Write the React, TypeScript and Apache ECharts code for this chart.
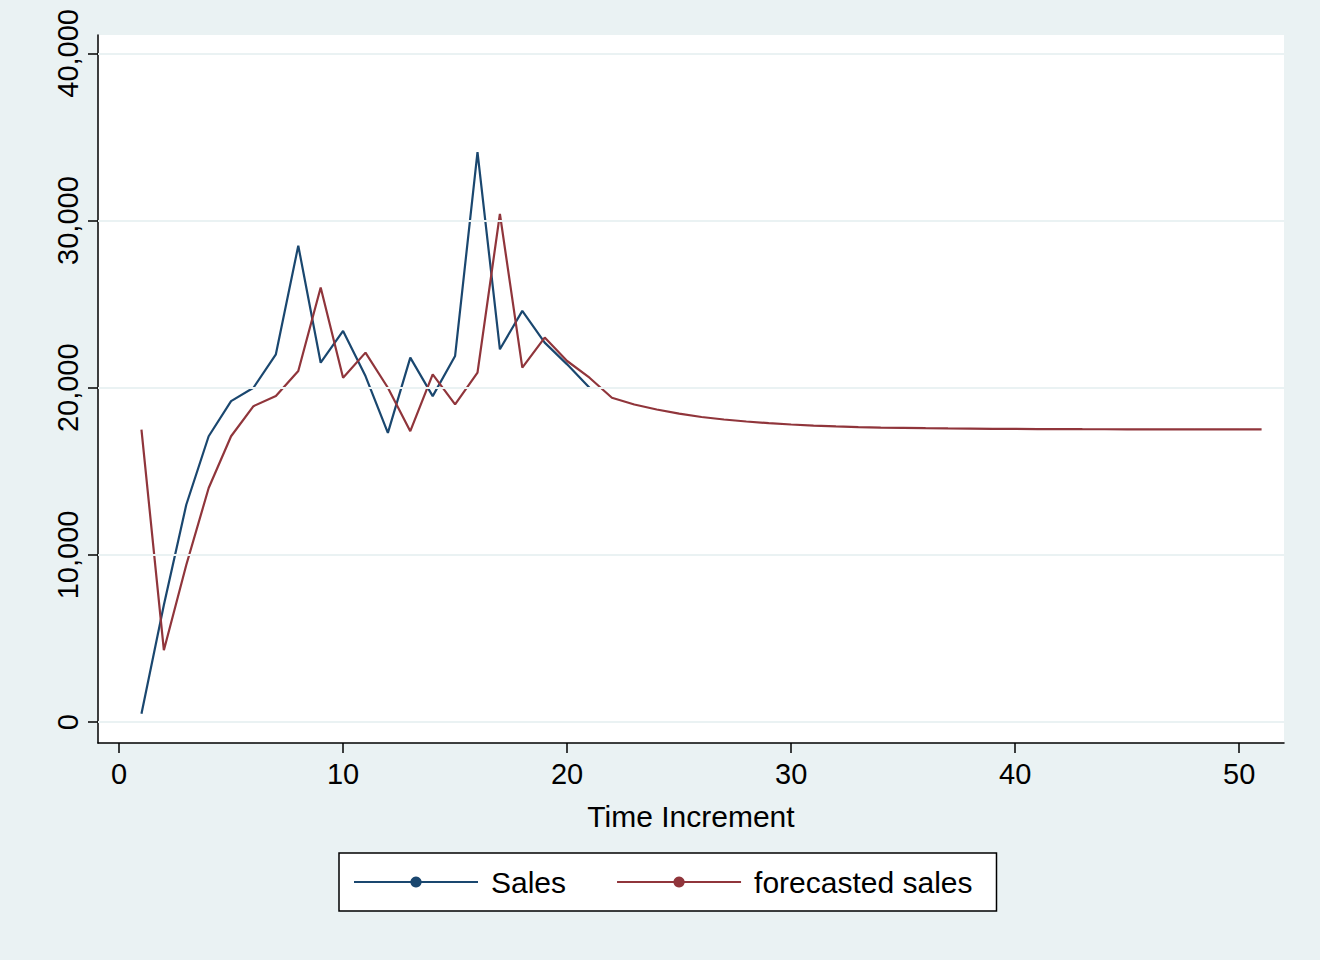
import * as echarts from "echarts";
import { useEffect, useRef } from "react";

const salesX = [1, 2, 3, 4, 5, 6, 7, 8, 9, 10, 11, 12, 13, 14, 15, 16, 17, 18, 19, 20, 21];
const sales = [500, 7000, 13000, 17100, 19200, 20000, 22000, 28500, 21500, 23400, 20700, 17300, 21800, 19500, 21900, 34100, 22300, 24600, 22700, 21400, 20000];

const forecastX = [
  1, 2, 3, 4, 5, 6, 7, 8, 9, 10, 11, 12, 13, 14, 15, 16, 17, 18, 19, 20, 21, 22, 23, 24, 25, 26,
  27, 28, 29, 30, 31, 32, 33, 34, 35, 36, 37, 38, 39, 40, 41, 42, 43, 44, 45, 46, 47, 48, 49, 50, 51
];
const forecast = [
  17500, 4300, 9400, 14000, 17100, 18900, 19500, 21000, 26000, 20600, 22100, 20000, 17400, 20800, 19000, 20900,
  30400, 21200, 23000, 21600, 20600, 19400, 19000, 18700, 18450, 18250, 18100, 17980, 17880, 17800, 17740, 17690,
  17650, 17620, 17600, 17580, 17565, 17555, 17545, 17535, 17530, 17525, 17520, 17518, 17515, 17512, 17510, 17508,
  17506, 17505, 17504
];

const xTicks = [0, 10, 20, 30, 40, 50];
const yTicks = [0, 10000, 20000, 30000, 40000];

const font = "'Liberation Sans', Arial, sans-serif";

export default function App() {
  const ref = useRef<HTMLDivElement | null>(null);

  useEffect(() => {
    if (!ref.current) return;
    const chart = echarts.init(ref.current, undefined, { renderer: "svg" });
    chart.setOption({
      animation: false,
      backgroundColor: "#eaf2f3",
      textStyle: { fontFamily: font },
      grid: { left: 98, top: 35, right: 36, bottom: 217, show: true, backgroundColor: "#ffffff", borderWidth: 0 },
      xAxis: {
        type: "value",
        min: -0.94,
        max: 52,
        name: "Time Increment",
        nameLocation: "middle",
        nameGap: 58,
        nameTextStyle: { fontSize: 30, color: "#000", fontFamily: font },
        axisLine: { onZero: false, lineStyle: { color: "#000", width: 1.5 } },
        axisTick: { customValues: xTicks, length: 10, lineStyle: { color: "#000", width: 1.5 } },
        axisLabel: { customValues: xTicks, fontSize: 29, color: "#000", margin: 16 },
        splitLine: { show: false }
      },
      yAxis: {
        type: "value",
        min: -1250,
        max: 41100,
        axisLine: { show: true, onZero: false, lineStyle: { color: "#000", width: 1.5 } },
        axisTick: { show: true, customValues: yTicks, length: 10, lineStyle: { color: "#000", width: 1.5 } },
        axisLabel: { customValues: yTicks, fontSize: 29, color: "#000", rotate: 90, margin: 16 },
        splitLine: { show: false }
      },
      legend: {
        left: 339,
        top: 853,
        width: 704,
        height: 60,
        padding: [14, 24, 14, 14],
        itemGap: 50,
        itemWidth: 124,
        itemHeight: 14,
        borderColor: "#000",
        borderWidth: 1.5,
        backgroundColor: "#fff",
        textStyle: { fontSize: 30, color: "#000", padding: [0, 0, 0, 8] },
        data: ["Sales", "forecasted sales"]
      },
      series: [
        {
          type: "line",
          name: "Sales",
          data: salesX.map((x, i) => [x, sales[i]]),
          symbol: "none",
          color: "#1a476f",
          lineStyle: { width: 2.2, color: "#1a476f" },
          markLine: {
            silent: true,
            symbol: "none",
            label: { show: false },
            lineStyle: { color: "#eaf2f3", width: 2, type: "solid" },
            data: yTicks.map((v) => ({ yAxis: v }))
          },
          z: 3
        },
        {
          type: "line",
          name: "forecasted sales",
          data: forecastX.map((x, i) => [x, forecast[i]]),
          symbol: "none",
          color: "#90353b",
          lineStyle: { width: 2.2, color: "#90353b" },
          z: 4
        }
      ]
    });
    return () => chart.dispose();
  }, []);

  return <div ref={ref} style={{ position: "absolute", left: 0, top: 0, width: 1320, height: 960 }} />;
}
